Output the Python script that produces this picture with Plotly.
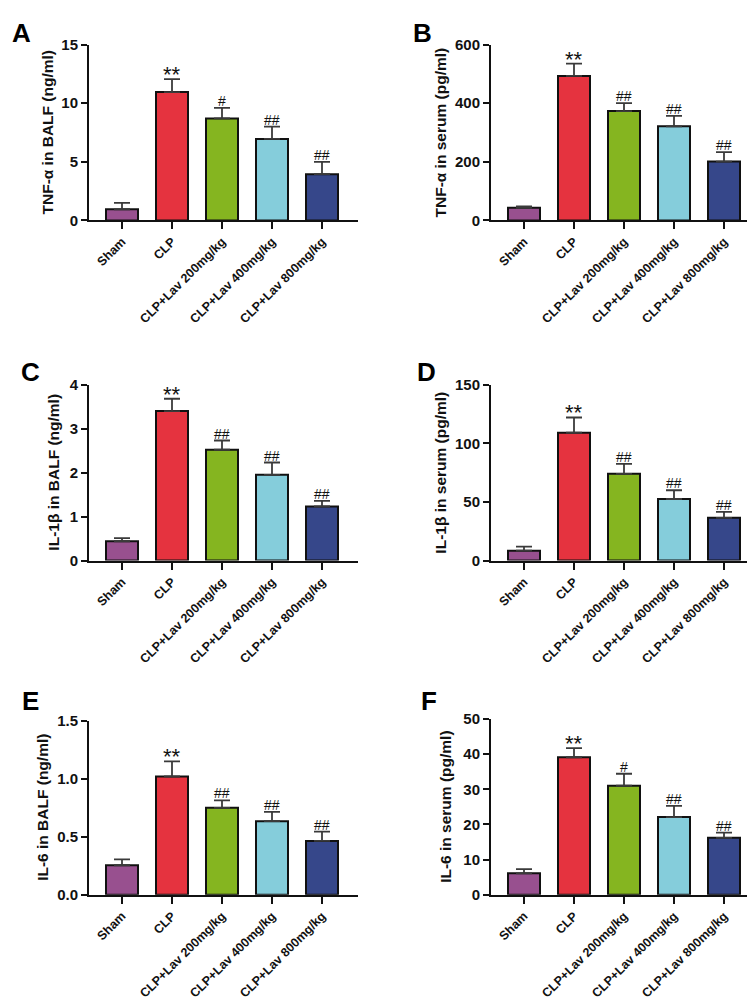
import plotly.graph_objects as go

W, H = 755, 1001

categories = ["Sham", "CLP", "CLP+Lav 200mg/kg", "CLP+Lav 400mg/kg", "CLP+Lav 800mg/kg"]
colors = ["#98508F", "#E5333F", "#85B520", "#85CDDB", "#36478A"]

# Panel values (mean) and upper error (SD)
a_vals = [0.95, 10.95, 8.7, 6.95, 3.95]
a_err = [0.55, 1.1, 0.9, 1.05, 1.05]
b_vals = [43, 493, 373, 321, 201]
b_err = [5, 42, 27, 36, 32]
c_vals = [0.44, 3.4, 2.52, 1.95, 1.23]
c_err = [0.07, 0.28, 0.21, 0.28, 0.13]
d_vals = [8.5, 109, 74, 52.5, 36.5]
d_err = [3.5, 13, 8.5, 7.5, 5]
e_vals = [0.255, 1.02, 0.75, 0.635, 0.465]
e_err = [0.05, 0.13, 0.065, 0.08, 0.08]
f_vals = [6.1, 39.1, 31.0, 22.1, 16.2]
f_err = [1.2, 2.6, 3.4, 3.2, 1.5]

a_sig = ["", "**", "#", "##", "##"]
b_sig = ["", "**", "##", "##", "##"]
c_sig = ["", "**", "##", "##", "##"]
d_sig = ["", "**", "##", "##", "##"]
e_sig = ["", "**", "##", "##", "##"]
f_sig = ["", "**", "#", "##", "##"]

a_ticks = [0, 5, 10, 15]
b_ticks = [0, 200, 400, 600]
c_ticks = [0, 1, 2, 3, 4]
d_ticks = [0, 50, 100, 150]
e_ticks = [0.0, 0.5, 1.0, 1.5]
f_ticks = [0, 10, 20, 30, 40, 50]

panels = [
    dict(letter="A", title="TNF-α in BALF (ng/ml)", vals=a_vals, err=a_err, sig=a_sig,
         ticks=a_ticks, fmt="{:g}", px=(81, 350), py=(28, 207), title_x=40, letter_xy=(13, 16)),
    dict(letter="B", title="TNF-α in serum (pg/ml)", vals=b_vals, err=b_err, sig=b_sig,
         ticks=b_ticks, fmt="{:g}", px=(483, 752), py=(28, 207), title_x=433, letter_xy=(414, 16)),
    dict(letter="C", title="IL-1β in BALF (ng/ml)", vals=c_vals, err=c_err, sig=c_sig,
         ticks=c_ticks, fmt="{:g}", px=(81, 350), py=(374, 553), title_x=46, letter_xy=(22, 361)),
    dict(letter="D", title="IL-1β in serum (pg/ml)", vals=d_vals, err=d_err, sig=d_sig,
         ticks=d_ticks, fmt="{:g}", px=(483, 752), py=(374, 553), title_x=433, letter_xy=(418, 361)),
    dict(letter="E", title="IL-6 in BALF (ng/ml)", vals=e_vals, err=e_err, sig=e_sig,
         ticks=e_ticks, fmt="{:.1f}", px=(81, 350), py=(716, 893), title_x=35, letter_xy=(22, 696)),
    dict(letter="F", title="IL-6 in serum (pg/ml)", vals=f_vals, err=f_err, sig=f_sig,
         ticks=f_ticks, fmt="{:g}", px=(483, 752), py=(714, 893), title_x=438, letter_xy=(421, 696)),
]

FONT = "Liberation Sans, Arial, sans-serif"
fig = go.Figure()
annotations = []
layout = {}

for i, p in enumerate(panels):
    n = "" if i == 0 else str(i + 1)
    xa, ya = "x" + n, "y" + n
    fig.add_trace(go.Bar(
        x=list(range(len(categories))), y=p["vals"],
        xaxis=xa, yaxis=ya,
        width=0.64,
        marker=dict(color=colors, line=dict(color="#111111", width=2)),
        error_y=dict(type="data", symmetric=False, array=p["err"],
                     arrayminus=[0] * len(p["err"]),
                     color="#3a3a3a", thickness=1.8, width=8),
        showlegend=False, hoverinfo="skip",
    ))
    ymax = p["ticks"][-1]
    layout["xaxis" + n] = dict(
        domain=[p["px"][0] / W, p["px"][1] / W], anchor=ya,
        range=[-0.66, 4.72], tickmode="array",
        tickvals=list(range(len(categories))), ticktext=categories,
        tickangle=-45, tickfont=dict(family=FONT, size=12.5, color="#111", weight="bold"),
        showline=True, linecolor="#111", linewidth=2,
        ticks="outside", ticklen=7, tickwidth=2, tickcolor="#111",
        showgrid=False, zeroline=False, fixedrange=True,
    )
    layout["yaxis" + n] = dict(
        domain=[1 - p["py"][1] / H, 1 - p["py"][0] / H], anchor=xa,
        range=[0, ymax], tickmode="array", tickvals=p["ticks"],
        ticktext=[p["fmt"].format(t) for t in p["ticks"]],
        tickfont=dict(family=FONT, size=15, color="#111", weight="bold"),
        showline=True, linecolor="#111", linewidth=2,
        ticks="outside", ticklen=6, tickwidth=2, tickcolor="#111",
        showgrid=False, zeroline=False, fixedrange=True,
    )
    # y-axis title
    yc = (p["py"][0] + p["py"][1]) / 2
    annotations.append(dict(
        text=p["title"], xref="paper", yref="paper",
        x=p["title_x"] / W, y=1 - yc / H, textangle=-90,
        showarrow=False, xanchor="center", yanchor="middle",
        font=dict(family=FONT, size=15.5, color="#111", weight="bold"),
    ))
    # panel letter
    annotations.append(dict(
        text=p["letter"], xref="paper", yref="paper",
        x=p["letter_xy"][0] / W, y=1 - p["letter_xy"][1] / H,
        showarrow=False, xanchor="center", yanchor="middle",
        font=dict(family=FONT, size=26, color="#000", weight="bold"),
    ))
    # significance markers
    for k, s in enumerate(p["sig"]):
        if not s:
            continue
        star = s.startswith("*")
        annotations.append(dict(
            text=s, xref=xa, yref=ya, x=k, y=p["vals"][k] + p["err"][k],
            showarrow=False, xanchor="center", yanchor="bottom",
            yshift=-10 if star else -3,
            font=dict(family=FONT, size=22 if star else 14, color="#111"),
        ))

fig.update_layout(
    width=W, height=H,
    margin=dict(l=0, r=0, t=0, b=0),
    paper_bgcolor="white", plot_bgcolor="white",
    annotations=annotations,
    bargap=0.36,
    **layout,
)

fig.write_html("out.html")
